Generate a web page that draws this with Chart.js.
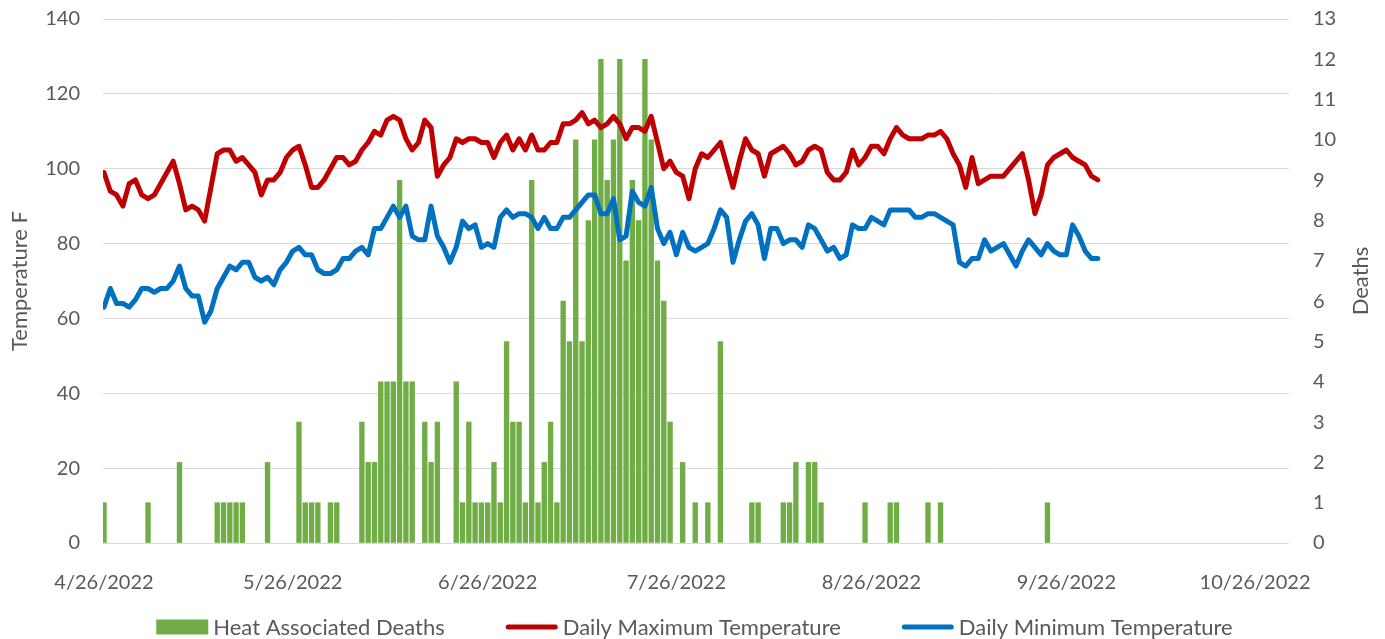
<!DOCTYPE html>
<html>
<head>
<meta charset="utf-8">
<script src="https://cdn.jsdelivr.net/npm/chart.js@4.4.1/dist/chart.umd.min.js"></script>
<style>
html,body{margin:0;padding:0;background:#ffffff;}
#wrap{width:1385px;height:639px;}
</style>
</head>
<body>
<div id="wrap"><canvas id="c" width="1385" height="639"></canvas></div>
<script>
// ---- Data (daily values, first day = 4/26/2022) ----
const tickDays   = [0, 30, 61, 91, 122, 153, 183];
const tickLabels = ['4/26/2022','5/26/2022','6/26/2022','7/26/2022','8/26/2022','9/26/2022','10/26/2022'];

const maxTemp = [
  99,94,93,90,96,97,93,92,93,96,
  99,102,96,89,90,89,86,95,104,105,
  105,102,103,101,99,93,97,97,99,103,
  105,106,101,95,95,97,100,103,103,101,
  102,105,107,110,109,113,114,113,108,105,
  107,113,111,98,101,103,108,107,108,108,
  107,107,103,107,109,105,108,105,109,105,
  105,107,107,112,112,113,115,112,113,111,
  112,114,112,108,111,111,110,114,107,100,
  102,99,98,92,100,104,103,105,107,101,
  95,102,108,105,104,98,104,105,106,104,
  101,102,105,106,105,99,97,97,99,105,
  101,103,106,106,104,108,111,109,108,108,
  108,109,109,110,108,104,101,95,103,96,
  97,98,98,98,100,102,104,97,88,93,
  101,103,104,105,103,102,101,98,97
];

const minTemp = [
  63,68,64,64,63,65,68,68,67,68,
  68,70,74,68,66,66,59,62,68,71,
  74,73,75,75,71,70,71,69,73,75,
  78,79,77,77,73,72,72,73,76,76,
  78,79,77,84,84,87,90,87,90,82,
  81,81,90,82,79,75,79,86,84,85,
  79,80,79,87,89,87,88,88,87,84,
  87,84,84,87,87,89,91,93,93,88,
  88,92,81,82,94,91,90,95,84,80,
  83,77,83,79,78,79,80,84,89,87,
  75,81,86,88,85,76,84,84,80,81,
  81,79,85,84,81,78,79,76,77,85,
  84,84,87,86,85,89,89,89,89,87,
  87,88,88,87,86,85,75,74,76,76,
  81,78,79,80,77,74,78,81,79,77,
  80,78,77,77,85,82,78,76,76
];

const deaths = [
  1,0,0,0,0,0,0,1,0,0,
  0,0,2,0,0,0,0,0,1,1,
  1,1,1,0,0,0,2,0,0,0,
  0,3,1,1,1,0,1,1,0,0,
  0,3,2,2,4,4,4,9,4,4,
  0,3,2,3,0,0,4,1,3,1,
  1,1,2,1,5,3,3,1,9,1,
  2,3,1,6,5,10,5,8,10,12,
  9,10,12,7,9,8,12,10,7,6,
  3,0,2,0,1,0,1,0,5,0,
  0,0,0,1,1,0,0,0,1,1,
  2,0,2,2,1,0,0,0,0,0,
  0,1,0,0,0,1,1,0,0,0,
  0,1,0,1,0,0,0,0,0,0,
  0,0,0,0,0,0,0,0,0,0,
  1,0,0,0,0,0,0,0,0
];

const seriesNames = ['Heat Associated Deaths','Daily Maximum Temperature','Daily Minimum Temperature'];
const seriesColors = ['#70AD47','#C00000','#0070C0'];

// ---- Chart ----
const FONT = 'Lato, "Open Sans", sans-serif';
const TXT = '#595959';
const CLEAR = 'rgba(0,0,0,0)';
const toXY = arr => arr.map((v, i) => ({x: i, y: v}));
const toBarXY = arr => arr.map((v, i) => ({x: i, y: v === 0 ? null : v}));

const extras = {
  id: 'extras',
  afterDraw(chart) {
    const ctx = chart.ctx;
    const area = chart.chartArea;
    // right axis title (rotated, reading bottom-to-top)
    ctx.save();
    ctx.fillStyle = TXT;
    ctx.font = '22px ' + FONT;
    ctx.translate(1361, (area.top + area.bottom) / 2);
    ctx.rotate(-Math.PI / 2);
    ctx.textAlign = 'center';
    ctx.textBaseline = 'middle';
    ctx.fillText('Deaths', 0, 0);
    ctx.restore();

    // legend
    ctx.save();
    ctx.font = '22px ' + FONT;
    const markW = 52, gapT = 5, gapI = 61;
    const widths = seriesNames.map(n => markW + gapT + ctx.measureText(n).width);
    const total = widths.reduce((a, b) => a + b, 0) + gapI * (widths.length - 1);
    let x = 694.5 - total / 2;
    const y = 627;
    seriesNames.forEach((name, i) => {
      if (i === 0) {
        ctx.fillStyle = seriesColors[i];
        ctx.fillRect(x, y - 7.5, markW, 15);
      } else {
        ctx.strokeStyle = seriesColors[i];
        ctx.lineWidth = 5;
        ctx.lineCap = 'round';
        ctx.beginPath();
        ctx.moveTo(x + 2.5, y);
        ctx.lineTo(x + markW - 2.5, y);
        ctx.stroke();
      }
      ctx.fillStyle = TXT;
      ctx.textAlign = 'left';
      ctx.textBaseline = 'middle';
      ctx.fillText(name, x + markW + gapT, y + 1);
      x += widths[i] + gapI;
    });
    ctx.restore();
  }
};

new Chart(document.getElementById('c'), {
  type: 'bar',
  data: {
    datasets: [
      {
        type: 'bar',
        label: seriesNames[0],
        data: toBarXY(deaths),
        backgroundColor: seriesColors[0],
        borderWidth: 0,
        barThickness: 4.7,
        yAxisID: 'y1',
        xAxisID: 'x',
        order: 3
      },
      {
        type: 'line',
        label: seriesNames[1],
        data: toXY(maxTemp),
        borderColor: seriesColors[1],
        backgroundColor: seriesColors[1],
        borderWidth: 5,
        pointRadius: 0,
        tension: 0,
        borderJoinStyle: 'round',
        borderCapStyle: 'round',
        yAxisID: 'y',
        xAxisID: 'x',
        order: 1
      },
      {
        type: 'line',
        label: seriesNames[2],
        data: toXY(minTemp),
        borderColor: seriesColors[2],
        backgroundColor: seriesColors[2],
        borderWidth: 5,
        pointRadius: 0,
        tension: 0,
        borderJoinStyle: 'round',
        borderCapStyle: 'round',
        yAxisID: 'y',
        xAxisID: 'x',
        order: 2
      }
    ]
  },
  options: {
    responsive: false,
    animation: false,
    devicePixelRatio: 1,
    layout: { padding: { top: 19, left: 0, right: 0, bottom: 0 } },
    plugins: { legend: { display: false }, tooltip: { enabled: false } },
    scales: {
      x: {
        type: 'linear',
        position: 'bottom',
        min: -0.16,
        max: 188.4,
        offset: false,
        grid: { display: false, offset: false },
        border: { display: false },
        afterBuildTicks: s => { s.ticks = tickDays.map(v => ({ value: v })); },
        afterFit: s => { s.height = 96; },
        ticks: {
          autoSkip: false,
          maxRotation: 0,
          minRotation: 0,
          padding: 20,
          color: TXT,
          font: { family: FONT, size: 20 },
          callback: v => { const k = tickDays.indexOf(v); return k >= 0 ? tickLabels[k] : ''; }
        }
      },
      y: {
        position: 'left',
        min: 0,
        max: 140,
        afterFit: s => { s.width = 103; },
        grid: { color: '#D9D9D9', lineWidth: 1, drawTicks: true, tickLength: 23, tickColor: CLEAR },
        border: { display: false },
        ticks: { stepSize: 20, padding: 0, color: TXT, font: { family: FONT, size: 20 } },
        title: { display: true, text: 'Temperature F', color: TXT, font: { family: FONT, size: 22 }, padding: { top: 7, bottom: 0 } }
      },
      y1: {
        position: 'right',
        min: 0,
        max: 13,
        afterFit: s => { s.width = 96; },
        grid: { display: true, drawOnChartArea: false, color: CLEAR, drawTicks: true, tickLength: 24, tickColor: CLEAR },
        border: { display: false },
        ticks: { stepSize: 1, padding: 0, color: TXT, font: { family: FONT, size: 20 } }
      }
    }
  },
  plugins: [extras]
});
</script>
</body>
</html>
